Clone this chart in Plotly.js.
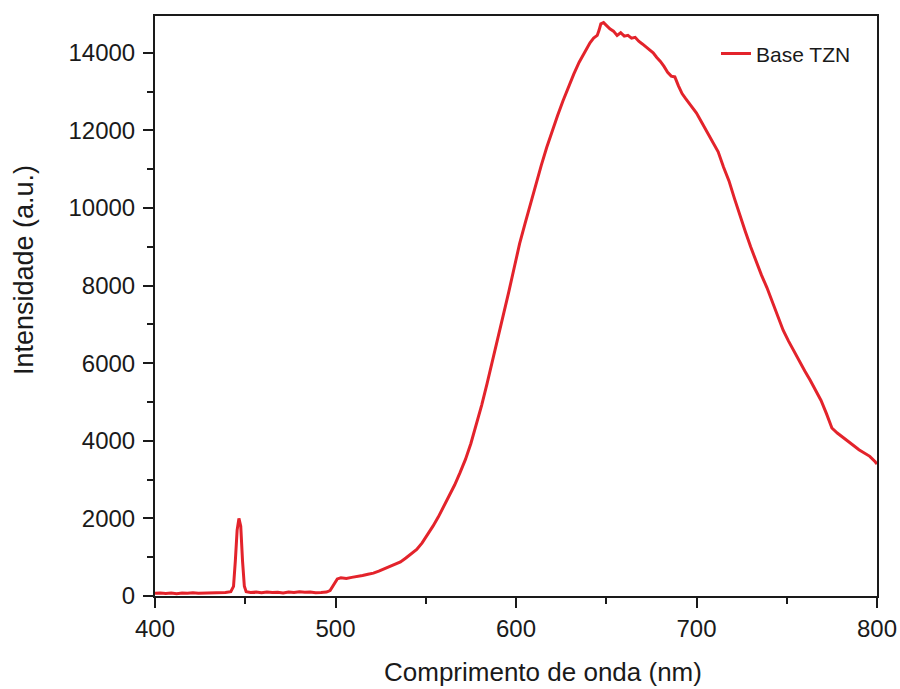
<!DOCTYPE html>
<html>
<head>
<meta charset="utf-8">
<script src="https://cdn.plot.ly/plotly-3.0.1.min.js"></script>
<style>html,body{margin:0;padding:0;background:#fff;}#chart{width:900px;height:689px;}</style>
</head>
<body>
<div id="chart"></div>
<script>
const seriesName = "Base TZN";
const wavelength = [
  400,403,406,409,412,415,418,421,424,427,430,433,436,439,442,
  443.5,444.5,445.5,446.5,447.5,448.5,449.5,450.5,
  453,456,459,462,465,468,471,474,477,480,483,486,489,492,495,
  497,499,501,503,506,509,512,515,518,521,524,527,530,533,536,539,
  542,545,548,551,554,557,560,563,566,569,572,575,578,581,584,587,
  590,593,596,599,602,605,608,611,614,617,620,623,626,629,632,635,
  638,641,643,645,646,647,648.5,650,652,654,656,658,660,662,664,666,
  668,670,672,674,676,678,680,682,684,686,688,690,692,694,696,698,
  700,703,706,709,712,715,718,721,724,727,730,733,736,739,742,745,
  748,751,754,757,760,763,766,769,772,775,778,781,784,787,790,793,
  796,799,800
];
const intensity = [
  70,80,65,75,60,80,70,85,70,75,65,80,75,90,110,
  250,900,1700,2000,1800,900,250,110,
  90,100,85,105,90,95,80,100,90,110,95,100,85,90,100,
  140,280,440,470,450,480,500,530,560,590,640,700,750,810,880,980,
  1080,1200,1370,1580,1800,2040,2300,2560,2860,3180,3520,3930,4400,4920,5480,6060,
  6640,7200,7840,8460,9080,9600,10120,10620,11100,11560,12000,12380,12760,13120,13450,13760,
  14020,14260,14380,14450,14580,14750,14780,14700,14620,14560,14450,14520,14430,14450,14380,14400,
  14300,14230,14150,14080,14000,13880,13780,13650,13500,13400,13380,13150,12950,12820,12700,12600,
  12450,12200,11950,11700,11450,11050,10700,10250,9800,9400,9000,8620,8270,7950,7600,7200,
  6850,6570,6300,6030,5800,5560,5300,5040,4700,4330,4200,4100,3980,3880,3770,3680,
  3600,3460,3400
];
const xTicks = [400,500,600,700,800];
const yTicks = [0,2000,4000,6000,8000,10000,12000,14000];
const xTitle = "Comprimento de onda (nm)";
const yTitle = "Intensidade (a.u.)";

const font = "Liberation Sans, Arial, sans-serif";
const ink = "#1a1a1a";
const trace = {
  x: wavelength, y: intensity, type: "scatter", mode: "lines", name: seriesName,
  line: {color: "#e3232b", width: 3}
};
const layout = {
  width: 900, height: 689,
  margin: {l: 155, r: 23, t: 16, b: 93},
  paper_bgcolor: "#fff", plot_bgcolor: "#fff",
  font: {family: font, color: ink},
  showlegend: true,
  legend: {x: 0.777, y: 0.97, xanchor: "left", yanchor: "top", bgcolor: "rgba(0,0,0,0)",
           font: {size: 21, family: font, color: ink}},
  xaxis: {
    range: [400, 800], tickvals: xTicks, ticktext: xTicks.map(String),
    ticks: "outside", ticklen: 10, tickwidth: 2, tickcolor: ink,
    minor: {tickvals: [450,550,650,750], ticks: "outside", ticklen: 6, tickwidth: 2, tickcolor: ink},
    showline: true, linewidth: 2, linecolor: ink, mirror: true,
    showgrid: false, zeroline: false,
    tickfont: {size: 24, family: font, color: ink}
  },
  yaxis: {
    range: [0, 14950], tickvals: yTicks, ticktext: yTicks.map(String),
    ticks: "outside", ticklen: 10, tickwidth: 2, tickcolor: ink,
    minor: {tickvals: [1000,3000,5000,7000,9000,11000,13000], ticks: "outside", ticklen: 6, tickwidth: 2, tickcolor: ink},
    showline: true, linewidth: 2, linecolor: ink, mirror: true,
    showgrid: false, zeroline: false, ticklabelstandoff: 3,
    tickfont: {size: 24, family: font, color: ink}
  },
  annotations: [
    {text: xTitle, xref: "paper", yref: "paper", x: 0.537, y: -0.131, xanchor: "center", yanchor: "middle",
     showarrow: false, font: {size: 26, family: font, color: ink}},
    {text: yTitle, xref: "paper", yref: "paper", x: -0.1814, y: 0.562, xanchor: "center", yanchor: "middle",
     textangle: -90, showarrow: false, font: {size: 27, family: font, color: ink}}
  ]
};
Plotly.newPlot("chart", [trace], layout, {displayModeBar: false, staticPlot: true});
</script>
</body>
</html>
